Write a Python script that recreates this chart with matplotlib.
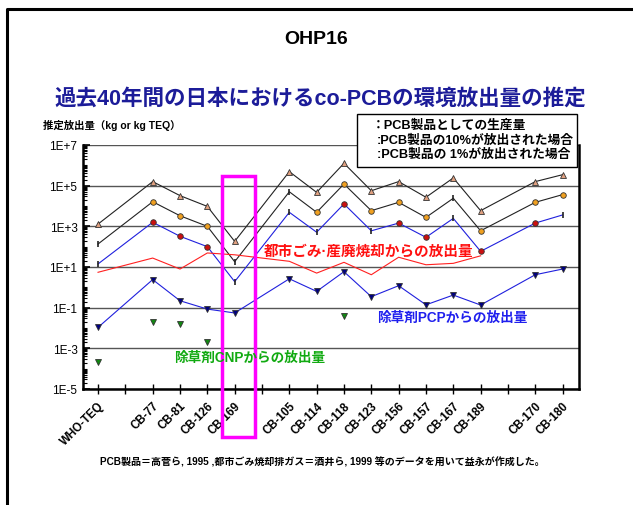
import numpy as np
import matplotlib
matplotlib.use("Agg")
import matplotlib.pyplot as plt
from matplotlib.patches import Rectangle

plt.rcParams["font.family"] = ["Liberation Sans", "Noto Sans CJK JP", "DejaVu Sans"]

# Categories along the x axis ("" = empty slot with a tick only)
categories = ["WHO-TEQ", "", "CB-77", "CB-81", "CB-126", "CB-169", "", "CB-105", "CB-114",
              "CB-118", "CB-123", "CB-156", "CB-157", "CB-167", "CB-189", "", "CB-170", "CB-180"]

nan = np.nan
# log10 of estimated emissions (kg or kg TEQ)
log_production = [3.11, nan, 5.20, 4.51, 3.98, 2.26, nan, 5.69, 4.67,
                  6.10, 4.75, 5.20, 4.43, 5.38, 3.77, nan, 5.20, 5.54]
log_release10 = [2.13, nan, 4.21, 3.52, 3.00, 1.26, nan, 4.70, 3.69,
                 5.08, 3.77, 4.18, 3.44, 4.38, 2.78, nan, 4.18, 4.56]
log_release1 = [1.15, nan, 3.20, 2.51, 2.00, 0.28, nan, 3.69, 2.71,
                4.10, 2.78, 3.16, 2.46, 3.39, 1.77, nan, 3.16, 3.56]
log_incineration = [0.74, nan, 1.44, 0.90, 1.69, 1.60, nan, 1.28, 0.70,
                    1.23, 0.62, 1.48, 1.11, 1.18, 1.55, nan, nan, nan]
log_pcp = [-1.97, nan, 0.38, -0.66, -1.07, -1.26, nan, 0.42, -0.20,
           0.77, -0.46, 0.08, -0.86, -0.38, -0.87, nan, 0.62, 0.90]
log_cnp = [-3.69, nan, -1.72, -1.80, -2.70, nan, nan, nan, nan,
           -1.40, nan, nan, nan, nan, nan, nan, nan, nan]

# points whose marker shows as a small tick in the original
tick_pts_10 = ["WHO-TEQ", "CB-169", "CB-105", "CB-167"]
tick_pts_1 = ["WHO-TEQ", "CB-169", "CB-105", "CB-114", "CB-123", "CB-167", "CB-180"]

W, H = 633, 506
fig = plt.figure(figsize=(W / 100, H / 100), dpi=100)


def fx(px):
    return px / W


def fy(py):
    return 1 - py / H


ax = fig.add_axes([fx(83), fy(390), fx(579) - fx(83), fy(146) - fy(390)])

x = np.arange(len(categories))


def series(vals):
    v = np.array(vals, dtype=float)
    m = ~np.isnan(v)
    return x[m], 10 ** v[m]


def plot_line(vals, color, marker=None, mfc=None, ticks=(), size=4.5):
    xs, ys = series(vals)
    ax.plot(xs, ys, color=color, lw=0.8, zorder=3)
    if marker is None:
        return
    is_tick = np.array([categories[i] in ticks for i in xs], dtype=bool)
    ax.plot(xs[~is_tick], ys[~is_tick], ls="none", marker=marker, ms=size,
            mfc=mfc, mec="#333333", mew=0.6, zorder=4)
    ax.plot(xs[is_tick], ys[is_tick], ls="none", marker="|", ms=5,
            mec="#222222", mew=1.2, zorder=4)


plot_line(log_production, "#222222", "^", "#e0a080")
plot_line(log_release10, "#222222", "o", "#f0a020", tick_pts_10, size=4)
plot_line(log_release1, "#2020dd", "o", "#cc1010", tick_pts_1, size=4)
plot_line(log_incineration, "#ff2020")
plot_line(log_pcp, "#2020dd", "v", "#000080", size=5)
xs, ys = series(log_cnp)
ax.plot(xs, ys, ls="none", marker="v", ms=5, mfc="#118811", mec="#333333", mew=0.6, zorder=4)

ax.set_yscale("log")
ax.set_ylim(1e-5, 1e7)
ax.set_xlim(-0.55, len(categories) - 0.4)
ax.set_yticks([10.0 ** k for k in range(-5, 8, 2)])
ax.set_yticklabels(["1E-5", "1E-3", "1E-1", "1E+1", "1E+3", "1E+5", "1E+7"], fontsize=8.5)
ax.yaxis.set_minor_locator(matplotlib.ticker.LogLocator(base=10, subs=np.arange(1, 10), numticks=40))
ax.yaxis.set_minor_formatter(matplotlib.ticker.NullFormatter())
ax.tick_params(axis="y", which="major", direction="in", length=5, width=1.2, pad=4)
ax.tick_params(axis="y", which="minor", direction="in", length=3, width=0.8)
ax.set_xticks(x)
ax.set_xticklabels(categories, rotation=45, ha="right", rotation_mode="anchor",
                   fontsize=8.3, fontweight="bold")
ax.tick_params(axis="x", direction="inout", length=7, width=1, pad=4)
ax.grid(axis="y", which="major", color="#555555", lw=1)
for s in ax.spines.values():
    s.set_linewidth(1.8)
ax.spines["top"].set_visible(False)
ax.set_axisbelow(True)

# magenta highlight around CB-169
ax.add_patch(Rectangle((4.55, 10 ** -7.36), 1.2, 10 ** 5.48 - 10 ** -7.36,
                       fill=False, ec="#ff00ff", lw=2.5, clip_on=False, zorder=5))

# series annotations
ax.text(6.05, 10 ** 1.79, "都市ごみ·産廃焼却からの放出量", color="#ff1010",
        fontsize=10.5, fontweight="bold", va="center", ha="left", zorder=6)
ax.text(10.2, 10 ** -1.46, "除草剤PCPからの放出量", color="#2020ee",
        fontsize=9.8, fontweight="bold", va="center", ha="left", zorder=6)
ax.text(2.78, 10 ** -3.43, "除草剤CNPからの放出量", color="#11aa11",
        fontsize=9.8, fontweight="bold", va="center", ha="left", zorder=6)

# titles and labels
fig.text(0.5, fy(40), "OHP16", fontsize=14, fontweight="bold", ha="center", va="center")
fig.text(fx(320), fy(99), "過去40年間の日本におけるco-PCBの環境放出量の推定",
         fontsize=15.5, fontweight="bold", color="#1c1c99", ha="center", va="center")
fig.text(fx(43), fy(125), "推定放出量（kg or kg TEQ）", fontsize=7.5, fontweight="bold",
         ha="left", va="center")

# legend box (text only, as in the original)
fig.patches.append(Rectangle((fx(357), fy(168)), fx(577) - fx(357), fy(115) - fy(168),
                             transform=fig.transFigure, fc="white", ec="black", lw=1,
                             zorder=10))
legend_lines = ["：PCB製品としての生産量", ":PCB製品の10%が放出された場合", ":PCB製品の 1%が放出された場合"]
for i, line in enumerate(legend_lines):
    fig.text(fx(372 if i == 0 else 377), fy(126 + 14.5 * i), line, fontsize=9.2,
             fontweight="bold", ha="left", va="center", zorder=11)

fig.text(fx(322), fy(462),
         "PCB製品＝高菅ら, 1995 ,都市ごみ焼却排ガス＝酒井ら, 1999 等のデータを用いて益永が作成した。",
         fontsize=7.2, fontweight="bold", ha="center", va="center")

# outer frame (only top and left edges fall inside the picture)
fig.lines.append(plt.Line2D([fx(7), fx(7), 1.01], [-0.01, fy(10), fy(10)],
                            transform=fig.transFigure, color="black", lw=2.2))

fig.savefig("out.png", dpi=100)
